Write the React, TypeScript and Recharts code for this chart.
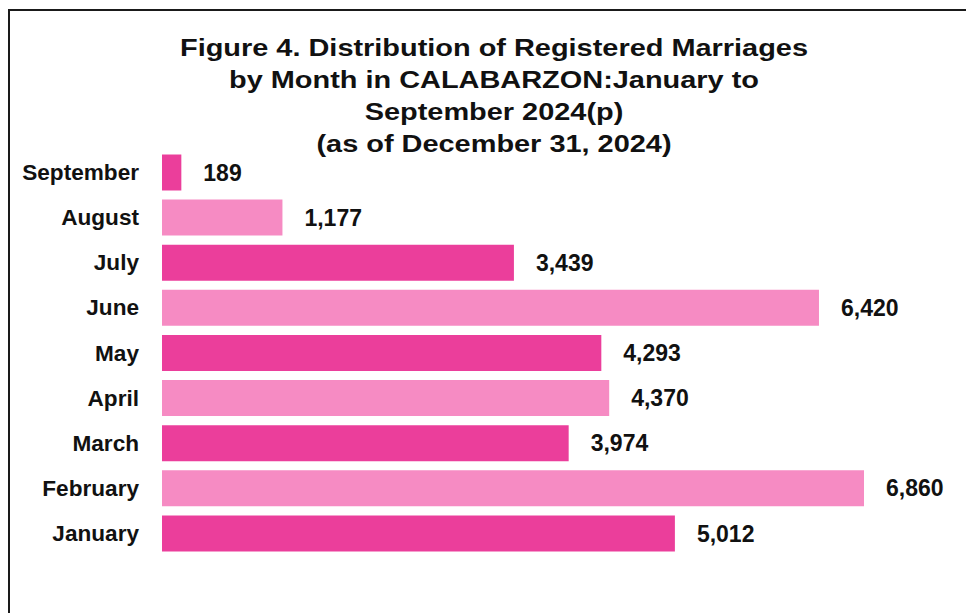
import React from 'react';
import { BarChart, Bar, XAxis, YAxis, Cell, LabelList } from 'recharts';

const months = ['September', 'August', 'July', 'June', 'May', 'April', 'March', 'February', 'January'];
const marriages = [189, 1177, 3439, 6420, 4293, 4370, 3974, 6860, 5012];
const barColors = ['#EB3E9B', '#F68BC3', '#EB3E9B', '#F68BC3', '#EB3E9B', '#F68BC3', '#EB3E9B', '#F68BC3', '#EB3E9B'];
const titleLines = [
  'Figure 4. Distribution of Registered Marriages',
  'by Month in CALABARZON:January to',
  'September 2024(p)',
  '(as of December 31, 2024)',
];

const data = months.map((m, i) => ({ month: m, value: marriages[i] }));

const FONT = '"Liberation Sans", Arial, sans-serif';

export default function App() {
  return (
    <div style={{ position: 'relative', width: 966, height: 605, overflow: 'hidden', background: '#fff' }}>
      <div
        style={{
          position: 'absolute',
          left: 0,
          top: 1,
          width: 2000,
          height: 2000,
          borderLeft: '2px solid #1a1a1a',
          borderTop: '2px solid #1a1a1a',
        }}
      />
      <div
        style={{
          position: 'absolute',
          left: 0,
          top: 24,
          width: 972,
          textAlign: 'center',
          fontFamily: FONT,
          fontWeight: 'bold',
          fontSize: 23.5,
          lineHeight: '32px',
          color: '#111',
          transform: 'scaleX(1.23)',
          transformOrigin: '486px 0',
          zIndex: 2,
        }}
      >
        {titleLines.map((t) => (
          <div key={t} style={{ whiteSpace: 'nowrap' }}>{t}</div>
        ))}
      </div>
      <BarChart
        width={966}
        height={605}
        data={data}
        layout="vertical"
        margin={{ top: 141.5, right: 44.5, left: 0, bottom: 57.5 }}
        barSize={36}
      >
        <XAxis type="number" domain={[0, 7500]} hide />
        <YAxis
          type="category"
          dataKey="month"
          width={154}
          tickLine={false}
          axisLine={false}
          tickSize={0}
          tickMargin={23}
          interval={0}
          tick={{ fontSize: 22.6, fontWeight: 'bold', fill: '#111', fontFamily: FONT }}
        />
        <Bar dataKey="value" isAnimationActive={false}>
          {data.map((d, i) => (
            <Cell key={d.month} fill={barColors[i]} />
          ))}
          <LabelList
            dataKey="value"
            position="right"
            offset={22}
            formatter={(v: number) => v.toLocaleString('en-US')}
            style={{ fontSize: 23, fontWeight: 'bold', fill: '#111', fontFamily: FONT }}
          />
        </Bar>
      </BarChart>
    </div>
  );
}
